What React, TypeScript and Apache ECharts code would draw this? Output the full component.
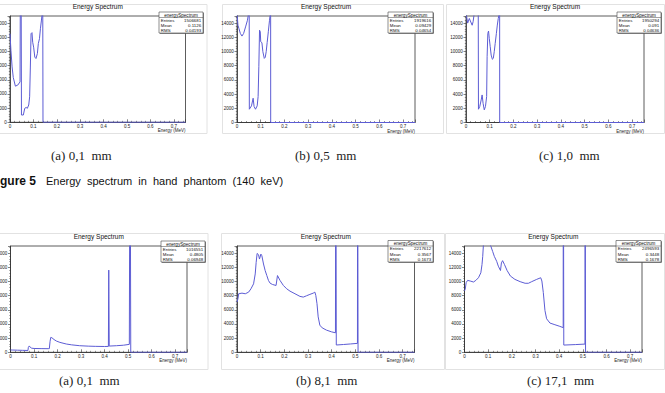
import React, { useEffect, useRef } from 'react';
import * as echarts from 'echarts';

// ---------- data (Energy in MeV, counts) ----------
// Top row: 140 keV, hand phantom
const topAEnergy = [0, 0.004, 0.009, 0.014, 0.023, 0.033, 0.043, 0.0455, 0.046, 0.0485, 0.049, 0.057, 0.063, 0.069, 0.074, 0.08, 0.084, 0.087, 0.09, 0.094, 0.097, 0.101, 0.106, 0.111, 0.117, 0.121, 0.126, 0.13, 0.134, 0.137, 0.1385, 0.1405, 0.141, 0.75];
const topACounts = [12500, 10160, 7820, 6320, 5100, 5250, 5700, 5750, 40000, 40000, 1030, 1030, 1970, 2100, 1970, 2440, 3600, 7800, 12500, 12650, 11300, 10600, 9200, 9000, 9700, 11100, 11800, 13200, 14300, 15200, 40000, 40000, 0, 0];

const topBEnergy = [0, 0.004, 0.008, 0.014, 0.021, 0.028, 0.037, 0.044, 0.048, 0.0505, 0.0515, 0.052, 0.061, 0.068, 0.072, 0.078, 0.085, 0.089, 0.092, 0.095, 0.098, 0.1, 0.105, 0.109, 0.115, 0.119, 0.123, 0.127, 0.132, 0.137, 0.14, 0.1415, 0.142, 0.75];
const topBCounts = [15500, 13700, 13250, 12550, 12170, 12550, 13580, 14400, 15200, 40000, 40000, 1870, 2340, 3420, 2250, 1870, 2340, 3650, 7860, 13000, 12800, 11380, 11240, 9970, 9030, 9180, 9970, 11240, 12780, 14400, 15200, 40000, 0, 0];

const topCEnergy = [0, 0.007, 0.014, 0.026, 0.03, 0.034, 0.05, 0.052, 0.0525, 0.058, 0.064, 0.068, 0.072, 0.077, 0.082, 0.087, 0.089, 0.092, 0.095, 0.098, 0.102, 0.106, 0.111, 0.115, 0.119, 0.123, 0.128, 0.132, 0.136, 0.139, 0.1415, 0.142, 0.75];
const topCCounts = [15500, 14000, 14650, 13700, 14200, 15200, 40000, 40000, 1870, 2250, 3180, 3880, 2700, 1780, 2250, 3650, 9270, 12550, 12880, 11850, 10680, 9500, 8900, 9030, 9970, 11140, 12550, 13720, 14650, 15200, 40000, 0, 0];

// Bottom row: 511 keV
const botAEnergy = [0, 0.01, 0.03, 0.05, 0.07, 0.074, 0.076, 0.08, 0.084, 0.09, 0.1, 0.13, 0.16, 0.165, 0.168, 0.171, 0.176, 0.185, 0.195, 0.21, 0.237, 0.26, 0.294, 0.33, 0.36, 0.4, 0.416, 0.4175, 0.419, 0.4195, 0.45, 0.48, 0.505, 0.508, 0.5105, 0.511, 0.75];
const botACounts = [330, 320, 300, 280, 260, 250, 700, 900, 700, 580, 540, 520, 510, 520, 1500, 2100, 2050, 1800, 1590, 1400, 1170, 1050, 930, 870, 840, 820, 830, 11600, 11600, 880, 930, 1000, 1120, 40000, 40000, 0, 0];

const botBEnergy = [0, 0.004, 0.007, 0.021, 0.035, 0.049, 0.059, 0.07, 0.077, 0.081, 0.085, 0.091, 0.095, 0.101, 0.105, 0.112, 0.119, 0.126, 0.133, 0.14, 0.15, 0.165, 0.171, 0.182, 0.196, 0.21, 0.224, 0.245, 0.266, 0.28, 0.294, 0.308, 0.322, 0.329, 0.333, 0.338, 0.343, 0.35, 0.36, 0.378, 0.399, 0.416, 0.4175, 0.419, 0.4195, 0.45, 0.48, 0.509, 0.5095, 0.511, 0.5115, 0.75];
const botBCounts = [7090, 7560, 8260, 8350, 8260, 8490, 8960, 9660, 11060, 12690, 13950, 13770, 13160, 13860, 13630, 12460, 11530, 10830, 10130, 9750, 9570, 9430, 10830, 10130, 9430, 8960, 8630, 8260, 7890, 7790, 7980, 8170, 8350, 8490, 8030, 6860, 5000, 3830, 3450, 3130, 2890, 2750, 40000, 40000, 1030, 1100, 1180, 1260, 40000, 40000, 0, 0];

const botCEnergy = [0, 0.003, 0.007, 0.013, 0.024, 0.038, 0.048, 0.059, 0.069, 0.074, 0.077, 0.08, 0.09, 0.1, 0.108, 0.112, 0.119, 0.126, 0.136, 0.143, 0.152, 0.156, 0.161, 0.169, 0.18, 0.194, 0.213, 0.235, 0.256, 0.27, 0.284, 0.305, 0.322, 0.327, 0.333, 0.34, 0.347, 0.361, 0.382, 0.403, 0.417, 0.4175, 0.419, 0.4195, 0.47, 0.509, 0.5095, 0.511, 0.5115, 0.75];
const botCCounts = [8670, 8900, 9830, 10150, 10060, 9920, 10150, 10520, 11220, 12380, 13540, 15200, 17000, 17000, 15200, 14900, 14230, 13540, 12840, 12150, 11540, 12610, 12930, 12380, 11540, 10760, 10290, 9970, 9740, 9740, 9970, 10290, 10520, 10060, 8440, 5890, 4730, 4130, 3890, 3660, 3480, 40000, 40000, 1020, 1090, 1160, 40000, 40000, 0, 0];

// stats boxes
const statEntries = ['1506681', '1919616', '1950294', '1016551', '2217612', '2496593'];
const statMeans = ['0.1126', '0.09429', '0.091', '0.4805', '0.3567', '0.3448'];
const statRms = ['0.04193', '0.04654', '0.04636', '0.06948', '0.1673', '0.1678'];

// axis ticks
const xTickStep = 0.1;
const yTickStep = 2000;
const xMax = 0.75;
const yMax = 15000;

const plotTitle = 'Energy Spectrum';
const statsName = 'energySpectrum';
const xAxisName = 'Energy (MeV)';
const captionsTop = ['(a) 0,1\u00a0\u00a0mm', '(b) 0,5\u00a0\u00a0mm', '(c) 1,0\u00a0\u00a0mm'];
const captionsBottom = ['(a) 0,1\u00a0\u00a0mm', '(b) 8,1\u00a0\u00a0mm', '(c) 17,1\u00a0\u00a0mm'];
const figureLabel = 'gure\u00a05';
const figureText = 'Energy\u00a0 spectrum\u00a0 in\u00a0 hand\u00a0 phantom\u00a0 (140\u00a0 keV)';

// ---------- layout ----------
const SANS = '"Liberation Sans", Arial, Helvetica, sans-serif';
const SERIF = '"Liberation Serif", "DejaVu Serif", serif';
const LINE = '#5c5cd4';

const layout = [
  { grid: { left: 10, top: 16, width: 175.5, height: 106.3 }, stats: { x: 159, y: 12, w: 44, h: 21 }, border: { x: -1, y: 4, w: 207.5, h: 129 } },
  { grid: { left: 237, top: 16, width: 178, height: 106.5 }, stats: { x: 388, y: 12, w: 45, h: 21 }, border: { x: 222, y: 4, w: 221, h: 129 } },
  { grid: { left: 466, top: 16, width: 178, height: 106.5 }, stats: { x: 617, y: 12, w: 44, h: 21 }, border: { x: 446, y: 4, w: 218, h: 129 } },
  { grid: { left: 10.5, top: 246, width: 176.5, height: 106.3 }, stats: { x: 161, y: 241, w: 44, h: 21 }, border: { x: -1, y: 233, w: 208.5, h: 136 } },
  { grid: { left: 237, top: 246, width: 177.5, height: 106.3 }, stats: { x: 388, y: 240.5, w: 45, h: 21.5 }, border: { x: 221, y: 233, w: 223, h: 136 } },
  { grid: { left: 464.5, top: 246, width: 177.5, height: 106.3 }, stats: { x: 616, y: 240.5, w: 45, h: 21.5 }, border: { x: 445, y: 233, w: 219, h: 136 } },
];

const panelData = [
  [topAEnergy, topACounts],
  [topBEnergy, topBCounts],
  [topCEnergy, topCCounts],
  [botAEnergy, botACounts],
  [botBEnergy, botBCounts],
  [botCEnergy, botCCounts],
];

function buildOption() {
  const grids: any[] = [];
  const xAxes: any[] = [];
  const yAxes: any[] = [];
  const series: any[] = [];
  const graphics: any[] = [];

  layout.forEach((p, i) => {
    const g = p.grid;
    grids.push({
      left: g.left, top: g.top, width: g.width, height: g.height,
      show: true, borderColor: '#333', borderWidth: 0.8,
      outerBoundsMode: 'none', containLabel: false,
    });
    xAxes.push({
      type: 'value', gridIndex: i, min: 0, max: xMax, interval: xTickStep,
      axisLine: { show: true, onZero: false, lineStyle: { color: '#333', width: 0.8 } },
      axisTick: { show: true, inside: true, length: 3, lineStyle: { color: '#333', width: 0.6 } },
      minorTick: { show: true, splitNumber: 5, length: 1.5, lineStyle: { color: '#333', width: 0.5 } },
      splitLine: { show: false },
      axisLabel: {
        fontSize: 4.5, color: '#222', margin: 1.5, fontFamily: SANS, showMaxLabel: false,
        formatter: (v: number) => (v === 0 ? '0' : v.toFixed(1)),
      },
    });
    yAxes.push({
      type: 'value', gridIndex: i, min: 0, max: yMax, interval: yTickStep,
      axisLine: { show: true, onZero: false, lineStyle: { color: '#333', width: 0.8 } },
      axisTick: { show: true, inside: false, length: 2.5, lineStyle: { color: '#333', width: 0.6 } },
      minorTick: { show: true, splitNumber: 5, length: 1.2, lineStyle: { color: '#333', width: 0.5 } },
      splitLine: { show: false },
      axisLabel: {
        fontSize: 4.5, color: '#222', margin: 3.3, fontFamily: SANS, showMaxLabel: false,
        formatter: (v: number) => String(v),
      },
    });
    const [en, ct] = panelData[i];
    series.push({
      type: 'line', xAxisIndex: i, yAxisIndex: i, showSymbol: false, symbol: 'none',
      clip: true, silent: true,
      lineStyle: { color: LINE, width: 1 },
      data: en.map((e, k) => [e, ct[k]]),
    });

    // canvas border
    const b = p.border;
    graphics.push({
      type: 'rect', z: -10, silent: true,
      shape: { x: b.x + 0.5, y: b.y + 0.5, width: b.w, height: b.h },
      style: { fill: 'none', stroke: '#e2e2e2', lineWidth: 1 },
    });
    // title
    graphics.push({
      type: 'text', z: 50,
      style: {
        text: plotTitle, x: g.left + g.width / 2, y: g.top - 9.3,
        fontSize: 6.5, fontFamily: SANS, fill: '#111', textAlign: 'center', textVerticalAlign: 'middle',
      },
    });
    // x axis name
    graphics.push({
      type: 'text', z: 50,
      style: {
        text: xAxisName, x: g.left + g.width, y: g.top + g.height + 8.6,
        fontSize: 4.5, fontFamily: SANS, fill: '#222', textAlign: 'right', textVerticalAlign: 'middle',
      },
    });
    // stats box
    const s = p.stats;
    const rowH = (s.h - 5.5) / 3;
    graphics.push({
      type: 'group', z: 60,
      children: [
        { type: 'rect', shape: { x: s.x + 0.8, y: s.y + 0.8, width: s.w, height: s.h }, style: { fill: '#666' } },
        { type: 'rect', shape: { x: s.x, y: s.y, width: s.w, height: s.h }, style: { fill: '#fff', stroke: '#444', lineWidth: 0.6 } },
        { type: 'line', shape: { x1: s.x, y1: s.y + 5.5, x2: s.x + s.w, y2: s.y + 5.5 }, style: { stroke: '#444', lineWidth: 0.5 } },
        { type: 'text', style: { text: statsName, x: s.x + s.w / 2, y: s.y + 3, fontSize: 4.6, fontFamily: SANS, fill: '#111', textAlign: 'center', textVerticalAlign: 'middle' } },
        ...[['Entries', statEntries[i]], ['Mean', statMeans[i]], ['RMS', statRms[i]]].flatMap(([lab, val], r) => [
          { type: 'text', style: { text: lab, x: s.x + 1.8, y: s.y + 5.5 + rowH * (r + 0.5), fontSize: 4.4, fontFamily: SANS, fill: '#111', textAlign: 'left', textVerticalAlign: 'middle' } },
          { type: 'text', style: { text: val, x: s.x + s.w - 1.8, y: s.y + 5.5 + rowH * (r + 0.5), fontSize: 4.4, fontFamily: SANS, fill: '#111', textAlign: 'right', textVerticalAlign: 'middle' } },
        ]),
      ],
    });
  });

  // captions
  const topCapX = [51, 295, 539];
  const botCapX = [59, 296, 527];
  captionsTop.forEach((c, i) => graphics.push({
    type: 'text', style: { text: c, x: topCapX[i], y: 155, fontSize: 13, fontFamily: SERIF, fill: '#222', textAlign: 'left', textVerticalAlign: 'middle' },
  }));
  captionsBottom.forEach((c, i) => graphics.push({
    type: 'text', style: { text: c, x: botCapX[i], y: 380, fontSize: 13, fontFamily: SERIF, fill: '#222', textAlign: 'left', textVerticalAlign: 'middle' },
  }));
  graphics.push({
    type: 'text', style: { text: figureLabel, x: 0, y: 181, fontSize: 12, fontWeight: 'bold', fontFamily: SANS, fill: '#111', textAlign: 'left', textVerticalAlign: 'middle' },
  });
  graphics.push({
    type: 'text', style: { text: figureText, x: 46, y: 181, fontSize: 11, fontFamily: SANS, fill: '#111', textAlign: 'left', textVerticalAlign: 'middle' },
  });

  return {
    animation: false,
    backgroundColor: '#fff',
    grid: grids,
    xAxis: xAxes,
    yAxis: yAxes,
    series,
    graphic: { elements: graphics },
  };
}

export default function App() {
  const ref = useRef<HTMLDivElement>(null);
  useEffect(() => {
    document.body.style.margin = '0';
    const chart = echarts.init(ref.current!, undefined, { renderer: 'svg' });
    chart.setOption(buildOption() as any);
    return () => chart.dispose();
  }, []);
  return <div ref={ref} style={{ position: 'absolute', left: 0, top: 0, width: 665, height: 393 }} />;
}
